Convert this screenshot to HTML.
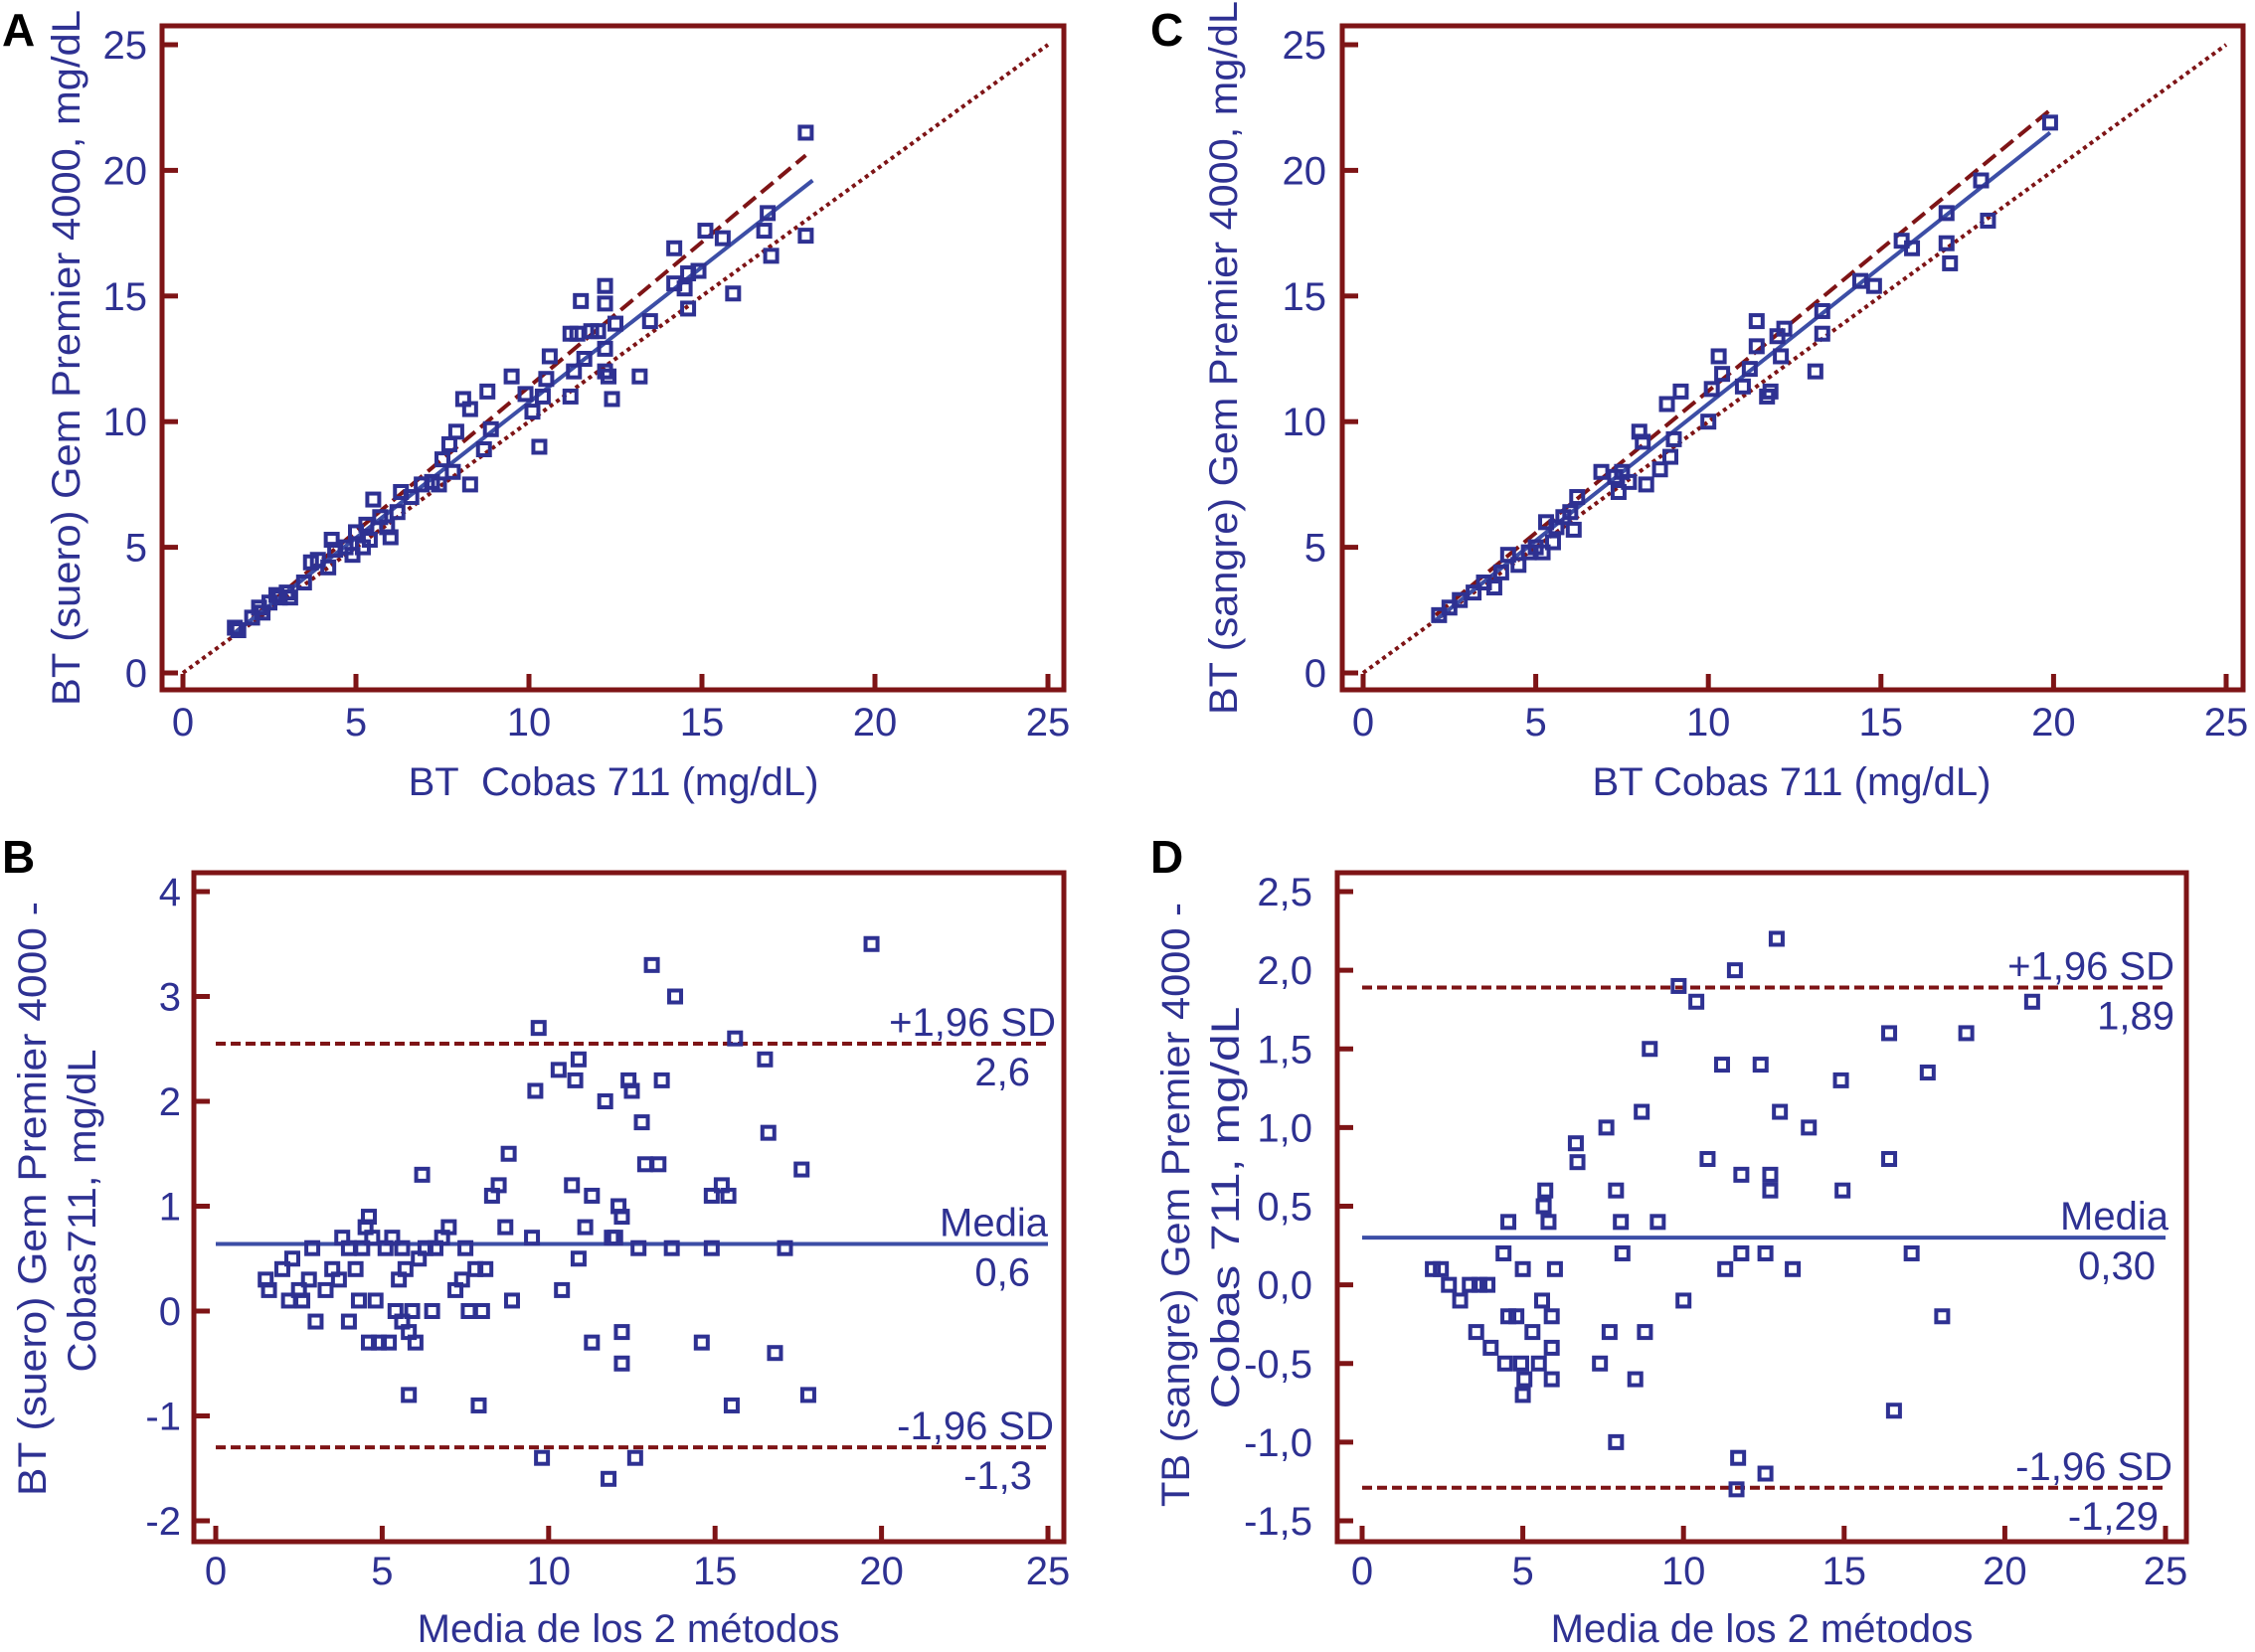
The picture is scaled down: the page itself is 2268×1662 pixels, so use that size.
<!DOCTYPE html>
<html><head><meta charset="utf-8"><style>
html,body{margin:0;padding:0;background:#fff;}
svg{display:block;}
text{font-family:"Liberation Sans Narrow","Liberation Sans",sans-serif;fill:#2e3192;}
.tl{font-size:40px;}
.at{font-family:"Liberation Sans",sans-serif;font-size:40px;}
.pl{font-family:"Liberation Sans",sans-serif;font-size:46px;font-weight:bold;fill:#000;}
</style></head><body>
<svg id="chart" width="2268" height="1662" viewBox="0 0 2268 1662" xmlns="http://www.w3.org/2000/svg"></svg>
<script>
const ticksXY = [0,5,10,15,20,25];
const ticksB = [4,3,2,1,0,-1,-2];
const ticksBLabels = ["4","3","2","1","0","-1","-2"];
const ticksD = [2.5,2,1.5,1,0.5,0,-0.5,-1,-1.5];
const ticksDLabels = ["2,5","2,0","1,5","1,0","0,5","0,0","-0,5","-1,0","-1,5"];

const pointsA = [[1.5,1.8],[1.6,1.7],[2,2.2],[2.2,2.6],[2.3,2.4],[2.5,2.8],[2.7,3.1],[2.8,3.0],[3,3.2],[3.1,3.0],[3.5,3.6],[3.7,4.4],[3.9,4.5],[4.2,4.2],[4.3,5.3],[4.4,4.9],[4.7,5.0],[4.9,4.7],[5.0,5.6],[5.2,5.0],[5.3,5.9],[5.4,5.3],[5.5,6.9],[5.7,6.2],[5.9,5.8],[6,5.4],[6.2,6.4],[6.3,7.2],[6.6,7.0],[6.9,7.5],[7.2,7.6],[7.4,7.5],[7.5,8.5],[7.7,9.1],[7.8,8.0],[7.9,9.6],[8.1,10.9],[8.3,10.5],[8.3,7.5],[8.7,8.9],[8.8,11.2],[8.9,9.7],[9.5,11.8],[9.9,11.1],[10.1,10.4],[10.3,9.0],[10.4,11.0],[10.5,11.7],[10.6,12.6],[11.2,13.5],[11.2,11.0],[11.3,12.0],[11.4,13.5],[11.5,14.8],[11.6,12.5],[11.8,13.6],[12.0,13.6],[12.2,15.4],[12.2,14.7],[12.2,12.9],[12.2,12.0],[12.3,11.8],[12.4,10.9],[12.5,13.9],[13.2,11.8],[13.5,14.0],[14.2,16.9],[14.2,15.5],[14.5,15.3],[14.6,14.5],[14.6,15.9],[14.9,16.0],[15.1,17.6],[15.6,17.3],[15.9,15.1],[16.8,17.6],[16.9,18.3],[17.0,16.6],[18.0,21.5],[18.0,17.4]];
const fitDashedA = [[1.5,1.6],[18,20.6]];
const fitSolidA = [[1.5,1.6],[18.2,19.6]];
const identity = [[0,0],[25,25]];

const pointsC = [[2.2,2.3],[2.5,2.6],[2.8,2.9],[3.2,3.2],[3.5,3.6],[3.8,3.4],[4.0,4.0],[4.2,4.7],[4.5,4.3],[4.8,4.8],[5.0,5.0],[5.2,4.8],[5.3,6.0],[5.5,5.2],[5.6,5.8],[5.8,6.2],[6.0,6.4],[6.1,5.7],[6.2,7.0],[6.9,8.0],[7.3,7.8],[7.4,7.2],[7.5,8.0],[7.7,7.6],[8.0,9.6],[8.1,9.2],[8.2,7.5],[8.6,8.1],[8.8,10.7],[8.9,8.6],[9.0,9.3],[9.2,11.2],[10.0,10.0],[10.1,11.3],[10.3,12.6],[10.4,11.9],[11.0,11.4],[11.2,12.1],[11.4,14.0],[11.4,13.0],[11.7,11.0],[11.8,11.2],[12.0,13.4],[12.1,12.6],[12.2,13.7],[13.1,12.0],[13.3,13.5],[13.3,14.4],[14.4,15.6],[14.8,15.4],[15.6,17.2],[15.9,16.9],[16.9,18.3],[16.9,17.1],[17.0,16.3],[17.9,19.6],[18.1,18.0],[19.9,21.9]];
const fitDashedC = [[2.1,2.3],[19.9,22.4]];
const fitSolidC = [[2.1,2.1],[19.9,21.5]];

const pointsB = [[1.5,0.3],[1.6,0.2],[2,0.4],[2.2,0.1],[2.3,0.5],[2.5,0.2],[2.6,0.1],[2.8,0.3],[2.9,0.6],[3.0,-0.1],[3.3,0.2],[3.5,0.4],[3.7,0.3],[3.8,0.7],[4.0,0.6],[4.0,-0.1],[4.2,0.4],[4.3,0.1],[4.4,0.6],[4.5,0.8],[4.6,0.9],[4.6,-0.3],[4.7,0.7],[4.8,0.1],[4.9,-0.3],[5.1,0.6],[5.2,-0.3],[5.3,0.7],[5.4,0.0],[5.5,0.3],[5.6,0.6],[5.6,-0.1],[5.7,0.4],[5.8,-0.8],[5.8,-0.2],[5.9,0.0],[6.0,-0.3],[6.1,0.5],[6.2,1.3],[6.3,0.6],[6.5,0.0],[6.6,0.6],[6.8,0.7],[7.0,0.8],[7.2,0.2],[7.4,0.3],[7.5,0.6],[7.6,0.0],[7.8,0.4],[7.9,-0.9],[8.0,0.0],[8.1,0.4],[8.3,1.1],[8.5,1.2],[8.7,0.8],[8.8,1.5],[8.9,0.1],[9.5,0.7],[9.6,2.1],[9.7,2.7],[9.8,-1.4],[10.3,2.3],[10.4,0.2],[10.7,1.2],[10.8,2.2],[10.9,2.4],[10.9,0.5],[11.1,0.8],[11.3,1.1],[11.3,-0.3],[11.7,2.0],[11.8,-1.6],[11.9,0.7],[12.0,0.7],[12.1,1.0],[12.2,0.9],[12.2,-0.2],[12.2,-0.5],[12.4,2.2],[12.5,2.1],[12.6,-1.4],[12.7,0.6],[12.8,1.8],[12.9,1.4],[13.1,3.3],[13.3,1.4],[13.4,2.2],[13.7,0.6],[13.8,3.0],[14.6,-0.3],[14.9,1.1],[14.9,0.6],[15.2,1.2],[15.4,1.1],[15.5,-0.9],[15.6,2.6],[16.5,2.4],[16.6,1.7],[16.8,-0.4],[17.1,0.6],[17.6,1.35],[17.8,-0.8],[19.7,3.5]];
const statsB = [2.55, 0.64, -1.3];
const statsBLabels = ["2,6","0,6","-1,3"];

const pointsD = [[2.2,0.1],[2.45,0.1],[2.7,0.0],[3.05,-0.1],[3.35,0.0],[3.65,0.0],[3.9,0.0],[3.55,-0.3],[4.0,-0.4],[4.4,0.2],[4.55,0.4],[4.55,-0.2],[4.8,-0.2],[4.45,-0.5],[4.95,-0.5],[5.0,0.1],[5.05,-0.6],[5.0,-0.7],[5.3,-0.3],[5.5,-0.5],[5.6,-0.1],[5.65,0.5],[5.7,0.6],[5.8,0.4],[5.9,-0.2],[5.9,-0.4],[5.9,-0.6],[6.0,0.1],[6.65,0.9],[6.7,0.78],[7.4,-0.5],[7.6,1.0],[7.7,-0.3],[7.9,0.6],[8.05,0.4],[8.1,0.2],[7.9,-1.0],[8.5,-0.6],[8.7,1.1],[8.8,-0.3],[8.95,1.5],[9.2,0.4],[9.85,1.9],[10.0,-0.1],[10.4,1.8],[10.75,0.8],[11.2,1.4],[11.3,0.1],[11.6,2.0],[11.7,-1.1],[11.8,0.2],[11.8,0.7],[11.65,-1.3],[12.4,1.4],[12.55,0.2],[12.55,-1.2],[12.7,0.7],[12.7,0.6],[12.9,2.2],[13.0,1.1],[13.4,0.1],[13.9,1.0],[14.9,1.3],[14.95,0.6],[16.4,1.6],[16.4,0.8],[16.55,-0.8],[17.1,0.2],[17.6,1.35],[18.05,-0.2],[18.8,1.6],[20.85,1.8]];
const statsD = [1.89, 0.30, -1.29];
const statsDLabels = ["1,89","0,30","-1,29"];

const NS = "http://www.w3.org/2000/svg";
const svg = document.getElementById('chart');
const RED = "#7e1416", BLUE = "#2e3192", LINE = "#3c4ea6";
function mk(tag, attrs, parent){
  const e = document.createElementNS(NS, tag);
  for (const k in attrs) e.setAttribute(k, attrs[k]);
  (parent||svg).appendChild(e); return e;
}
function txt(s, x, y, cls, anchor, parent, extra){
  const t = mk('text', Object.assign({x:x, y:y, class:cls, 'text-anchor':anchor||'start'}, extra||{}), parent);
  t.textContent = s; return t;
}
function panel(cfg){
  const g = mk('g', {});
  
  
  const sx = v => cfg.x0 + (v - cfg.xv0) / (cfg.xv1 - cfg.xv0) * (cfg.x1 - cfg.x0);
  const sy = v => cfg.y0 + (v - cfg.yv0) / (cfg.yv1 - cfg.yv0) * (cfg.y1 - cfg.y0);
  const f = cfg.frame;
  const fr = mk('rect', {x:f[0], y:f[1], width:f[2]-f[0], height:f[3]-f[1], fill:'none', stroke:RED, 'stroke-width':5}, g);
  
  
  cfg.xticks.forEach(v => {
    mk('line', {x1:sx(v), x2:sx(v), y1:f[3], y2:f[3]-16, stroke:RED, 'stroke-width':5}, g);
    const t = txt(String(v), sx(v), cfg.xlabY, 'tl', 'middle', g);
    
    
  });
  cfg.yticks.forEach((v, i) => {
    mk('line', {x1:f[0], x2:f[0]+16, y1:sy(v), y2:sy(v), stroke:RED, 'stroke-width':5}, g);
    const t = txt(cfg.ylabels[i], cfg.ylabX, sy(v)+14, 'tl', 'end', g);
    
    
  });
  (cfg.lines||[]).forEach(L => {
    const l = mk('line', {x1:sx(L.p[0][0]), y1:sy(L.p[0][1]), x2:sx(L.p[1][0]), y2:sy(L.p[1][1]), stroke:L.c, 'stroke-width':L.w, 'stroke-dasharray':L.d||'none'}, g);
    
    
  });
  (cfg.hlines||[]).forEach(L => {
    const l = mk('line', {x1:sx(0), y1:sy(L.v), x2:sx(25), y2:sy(L.v), stroke:L.c, 'stroke-width':L.w, 'stroke-dasharray':L.d||'none'}, g);
    
    
    const a = txt(L.top, L.rx1, sy(L.v)-8, 'tl', 'end', g);
    
    
    const b = txt(L.bot, L.rx2, sy(L.v)+42, 'tl', 'end', g);
    
    
  });
  cfg.points.forEach(p => {
    const r = mk('rect', {x:sx(p[0])-6, y:sy(p[1])-6, width:12, height:12, fill:'none', stroke:BLUE, 'stroke-width':4}, g);
    
    
  });
  const xt = txt(cfg.xtitle, cfg.xtX, cfg.xtY, 'at', 'middle', g);
  
  
  cfg.ytitles.forEach(T => {
    const t = txt(T.s, 0, 0, 'at', 'middle', g, {transform:`translate(${T.x},${T.y}) rotate(-90)`, textLength:T.len, lengthAdjust:'spacingAndGlyphs'});
    
    
  });
  const pl = txt(cfg.letter, cfg.lx, cfg.ly, 'pl', 'start', g);
  
  
}
const dashed = '16 7', dotted = '4 4';
panel({name:'panel-a', frame:[163,26,1070,694], x0:184, x1:1054, xv0:0, xv1:25, y0:677, y1:45, yv0:0, yv1:25,
  xticks:ticksXY, yticks:ticksXY, ylabels:ticksXY.map(String), xlabY:740, ylabX:148,
  points:pointsA,
  lines:[{p:identity,c:RED,w:4,d:dotted,name:'identity-line'},{p:fitDashedA,c:RED,w:4,d:dashed,name:'dashed-fit-line'},{p:fitSolidA,c:LINE,w:4,name:'regression-line'}],
  xtitle:'BT\u00a0 Cobas 711 (mg/dL)', xtX:617, xtY:800,
  ytitles:[{s:'BT (suero) Gem Premier 4000, mg/dL', x:80, y:360, len:700}], letter:'A', lx:2, ly:46});
panel({name:'panel-c', frame:[1350,26,2256,694], x0:1371, x1:2239, xv0:0, xv1:25, y0:677, y1:45, yv0:0, yv1:25,
  xticks:ticksXY, yticks:ticksXY, ylabels:ticksXY.map(String), xlabY:740, ylabX:1334,
  points:pointsC,
  lines:[{p:identity,c:RED,w:4,d:dotted,name:'identity-line'},{p:fitDashedC,c:RED,w:4,d:dashed,name:'dashed-fit-line'},{p:fitSolidC,c:LINE,w:4,name:'regression-line'}],
  xtitle:'BT Cobas 711 (mg/dL)', xtX:1802, xtY:800,
  ytitles:[{s:'BT (sangre) Gem Premier 4000, mg/dL', x:1244, y:360, len:718}], letter:'C', lx:1157, ly:46});
panel({name:'panel-b', frame:[195,878,1070,1551], x0:217, x1:1054, xv0:0, xv1:25, y0:897, y1:1530, yv0:4, yv1:-2,
  xticks:ticksXY, yticks:ticksB, ylabels:ticksBLabels, xlabY:1594, ylabX:182,
  points:pointsB,
  hlines:[{v:statsB[0],c:RED,w:4,d:'10 5',name:'upper-limit-line',top:'+1,96 SD',bot:statsBLabels[0],rx1:1062,rx2:1036},
          {v:statsB[1],c:LINE,w:4,name:'mean-line',top:'Media',bot:statsBLabels[1],rx1:1054,rx2:1036},
          {v:statsB[2],c:RED,w:4,d:'10 5',name:'lower-limit-line',top:'-1,96 SD',bot:statsBLabels[2],rx1:1060,rx2:1038}],
  xtitle:'Media de los 2 métodos', xtX:632, xtY:1652,
  ytitles:[{s:'BT (suero) Gem Premier 4000 -', x:46, y:1206, len:598},{s:'Cobas711, mg/dL', x:96, y:1218, len:325}], letter:'B', lx:2, ly:878});
panel({name:'panel-d', frame:[1345,878,2199,1551], x0:1370, x1:2178, xv0:0, xv1:25, y0:897, y1:1530, yv0:2.5, yv1:-1.5,
  xticks:ticksXY, yticks:ticksD, ylabels:ticksDLabels, xlabY:1594, ylabX:1320,
  points:pointsD,
  hlines:[{v:statsD[0],c:RED,w:4,d:'10 5',name:'upper-limit-line',top:'+1,96 SD',bot:statsDLabels[0],rx1:2187,rx2:2187},
          {v:statsD[1],c:LINE,w:4,name:'mean-line',top:'Media',bot:statsDLabels[1],rx1:2181,rx2:2168},
          {v:statsD[2],c:RED,w:4,d:'10 5',name:'lower-limit-line',top:'-1,96 SD',bot:statsDLabels[2],rx1:2185,rx2:2171}],
  xtitle:'Media de los 2 métodos', xtX:1772, xtY:1652,
  ytitles:[{s:'TB (sangre) Gem Premier 4000 -', x:1196, y:1212, len:608},{s:'Cobas 711, mg/dL', x:1246, y:1215, len:405}], letter:'D', lx:1157, ly:878});
</script>
</body></html>
